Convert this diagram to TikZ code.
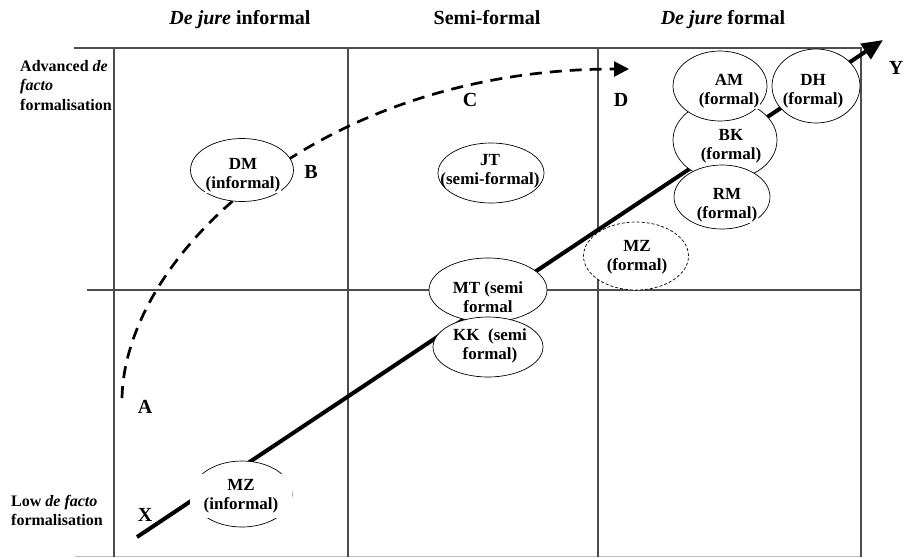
\documentclass[tikz,border=0pt]{standalone}
\usepackage{fontspec}
\setmainfont{Liberation Serif}
\usetikzlibrary{shapes.geometric,arrows.meta}
\tikzset{
	quadline/.style={draw=black!70, line width=1.1pt},
	blob/.style={ellipse, draw, fill=white, line width=0.7pt, inner sep=0pt},
	blobtext/.style={fill=white, inner sep=1pt, align=center,
			font=\fontsize{17}{19.5}\selectfont\bfseries},
	letter/.style={font=\fontsize{20}{22}\selectfont\bfseries},
	header/.style={font=\fontsize{20}{22}\selectfont\bfseries, anchor=base},
	sidelabel/.style={font=\fontsize{16}{19.5}\selectfont\bfseries,
			align=left, inner sep=0pt, anchor=north west}
}

\begin{document}
\begin{tikzpicture}[x=1pt, y=-1pt]
    \useasboundingbox (0,0) rectangle (906,558);

    % Quadrant lines
    \draw[quadline] (74,48) -- (862,48);
    \draw[quadline] (87,290) -- (861,290);
    \draw[draw=black!25, line width=1pt] (75,556) -- (861,556);
    \foreach \xx in {114,348,598,861} {
      \draw[quadline] (\xx,48) -- (\xx,557);
    }

    % Paths X to Y and A to D
    \coordinate (xstart) at (137,537);
    \coordinate (ytip) at (883,40);
    \coordinate (astart) at (122,398);
    \coordinate (dtip) at (629,69);
    \draw[line width=4pt, -{Triangle[length=21pt, width=18pt]}] (xstart) -- (ytip);
    \draw[line width=2.7pt, dash pattern=on 12pt off 8pt,
          -{Triangle[length=15pt, width=15pt]}]
      (astart) .. controls (125,255) and (320,69) .. (dtip);

    % Ellipses (drawn before their text boxes)
    \foreach \nm/\cx/\cy/\w/\h in {dm/242/170/103/63, jt/491/173/106/60,
        mzi/242/494/100/66, mt/488/290/118/64, kk/488/347/110/60,
        bk/725/140/104/80, rm/722/197/96/64, am/720/86/94/70, dh/816/86/88/74} {
      \node[blob, minimum width=\w pt, minimum height=\h pt] (\nm) at (\cx,\cy) {};
    }
    \node[blob, dashed, dash pattern=on 3pt off 2pt, minimum width=105pt,
          minimum height=68pt] (mzf) at (636,256) {};

    % Text boxes
    \node[blobtext] (dmtxt) at (243,175) {DM\\(informal)};
    \node[blobtext, fill=none] (jttxt) at (490,171) {JT\\(semi-formal)};
    \node[blobtext, minimum width=102pt, minimum height=44pt] (mzitxt) at (241,496) {MZ\\(informal)};
    \node[blobtext] (mttxt) at (488,297) {MT (semi\\formal};
    \node[blobtext] (kktxt) at (490,346) {KK\ \ (semi\\formal)};
    \node[blobtext] (mzftxt) at (637,257) {MZ\\(formal)};
    \node[blobtext] (bktxt) at (731,146) {BK\\(formal)};
    \node[blobtext] (rmtxt) at (727,205) {RM\\(formal)};
    \node[blobtext] (amtxt) at (729,91) {AM\\(formal)};
    \node[blobtext] (dhtxt) at (813,91) {DH\\(formal)};

    % Point letters
    \node[letter] (la) at (145,407) {A};
    \node[letter] (lb) at (311,172) {B};
    \node[letter] (lc) at (470,100) {C};
    \node[letter] (ld) at (621,100) {D};
    \node[letter] (lx) at (145,515) {X};
    \node[letter] (ly) at (896,68) {Y};

    % Axis labels
    \node[header] (hinf) at (240,24) {\textit{De jure} informal};
    \node[header] (hsemi) at (487,24) {Semi-formal};
    \node[header] (hform) at (723,24) {\textit{De jure} formal};
    \node[sidelabel] (adv) at (20,60) {Advanced \textit{de}\\\textit{facto}\\formalisation};
    \node[sidelabel] (low) at (11,495) {Low \textit{de facto}\\formalisation};
\end{tikzpicture}
\end{document}
